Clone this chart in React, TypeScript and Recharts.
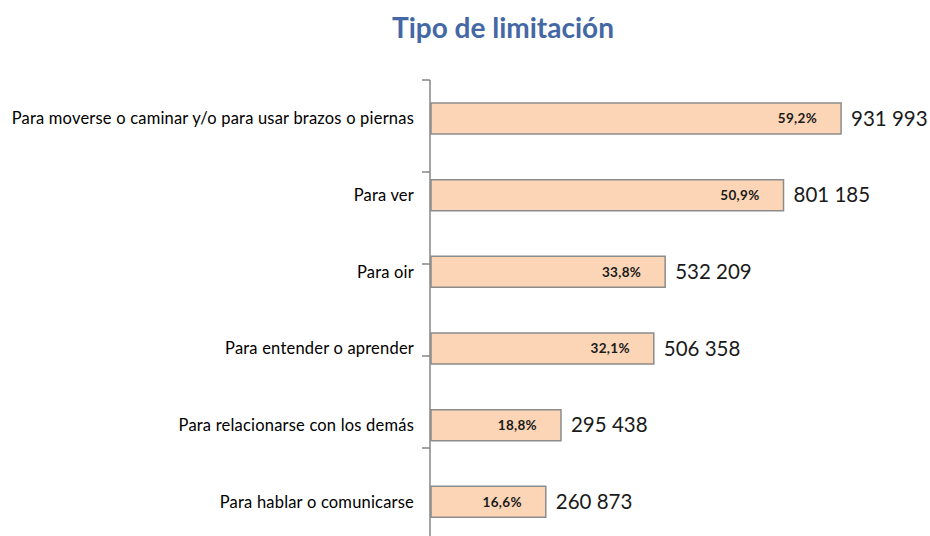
import React from 'react';
import { BarChart, Bar, XAxis, YAxis, LabelList } from 'recharts';

const categories = [
  'Para moverse o caminar y/o para usar brazos o piernas',
  'Para ver',
  'Para oir',
  'Para entender o aprender',
  'Para relacionarse con los demás',
  'Para hablar o comunicarse',
];
const personas = [931993, 801185, 532209, 506358, 295438, 260873];
const porcentajes = [59.2, 50.9, 33.8, 32.1, 18.8, 16.6];
const boundaryTicks = [0, 1, 2, 3, 4, 5, 6];

const FONT = 'Lato, "Open Sans", sans-serif';

const formatMiles = (v: number) => String(v).replace(/\B(?=(\d{3})+(?!\d))/g, ' ');
const formatPct = (v: number) => v.toFixed(1).replace('.', ',') + '%';

// single-line category label (no wrapping in the narrow axis)
const CategoryTick = (props: any) => {
  const { x, y, payload } = props;
  return (
    <text x={x} y={y} dy="0.355em" textAnchor="end" fill="#000" fontSize={16.5} fontFamily={FONT} letterSpacing={0.2}>
      {payload.value}
    </text>
  );
};

const App: React.FC = () => {
  const chartData = categories.map((name, i) => ({
    name,
    value: personas[i],
    pct: porcentajes[i],
    edge: i + 0.5,
  }));

  return (
    <div style={{ position: 'fixed', left: 0, top: 0, width: 930, height: 536, overflow: 'hidden', background: '#fff', fontFamily: FONT }}>
      <div style={{ position: 'absolute', left: 303, top: 10, width: 400, textAlign: 'center', fontSize: 28, fontWeight: 700, color: '#4468A6' }}>
        Tipo de limitación
      </div>
      <BarChart
        width={930}
        height={540}
        data={chartData}
        layout="vertical"
        margin={{ top: 80, right: 59, left: 0, bottom: 0 }}
        barSize={31}
      >
        <XAxis type="number" domain={[0, 1000000]} hide />
        <YAxis
          yAxisId="cat"
          type="category"
          dataKey="name"
          width={1}
          axisLine={false}
          tickLine={false}
          tickSize={10}
          tickMargin={7}
          interval={0}
          tick={<CategoryTick />}
        />
        <YAxis
          yAxisId="edges"
          type="number"
          orientation="left"
          domain={[0, 6]}
          ticks={boundaryTicks}
          allowDataOverflow
          width={430}
          tickSize={8}
          axisLine={{ stroke: '#868686', strokeWidth: 1.5 }}
          tickLine={{ stroke: '#868686', strokeWidth: 1.5 }}
          tick={() => <g />}
        />
        <Bar yAxisId="cat" dataKey="value" fill="#FBD5B5" stroke="#8C8C8C" strokeWidth={1.5} isAnimationActive={false}>
          <LabelList
            dataKey="pct"
            position="insideRight"
            offset={24}
            formatter={(v: any) => formatPct(Number(v))}
            style={{ fill: '#1a1a1a', fontSize: 13.5, fontWeight: 700, fontFamily: FONT, letterSpacing: 0.3 }}
          />
          <LabelList
            dataKey="value"
            position="right"
            offset={10}
            formatter={(v: any) => formatMiles(Number(v))}
            style={{ fill: '#1a1a1a', fontSize: 20.5, fontFamily: FONT }}
          />
        </Bar>
        <Bar yAxisId="edges" dataKey="edge" fill="none" stroke="none" isAnimationActive={false} legendType="none" />
      </BarChart>
    </div>
  );
};

export default App;
